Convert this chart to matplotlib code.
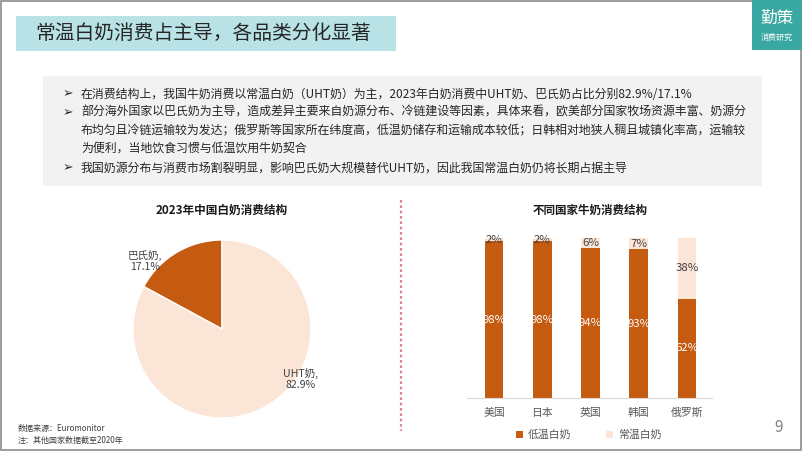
import matplotlib
matplotlib.use("Agg")
import matplotlib.pyplot as plt
from matplotlib.patches import Rectangle, Patch
from matplotlib.lines import Line2D
import numpy as np

plt.rcParams["font.family"] = ["Noto Sans CJK SC", "DejaVu Sans"]

W, H = 802, 451

# --- data ---
title = "常温白奶消费占主导，各品类分化显著"
bullets = [
    "在消费结构上，我国牛奶消费以常温白奶（UHT奶）为主，2023年白奶消费中UHT奶、巴氏奶占比分别82.9%/17.1%",
    "部分海外国家以巴氏奶为主导，造成差异主要来自奶源分布、冷链建设等因素，具体来看，欧美部分国家牧场资源丰富、奶源分\n"
    "布均匀且冷链运输较为发达；俄罗斯等国家所在纬度高，低温奶储存和运输成本较低；日韩相对地狭人稠且城镇化率高，运输较\n"
    "为便利，当地饮食习惯与低温饮用牛奶契合",
    "我国奶源分布与消费市场割裂明显，影响巴氏奶大规模替代UHT奶，因此我国常温白奶仍将长期占据主导",
]

pie_title = "2023年中国白奶消费结构"
pie_labels = ["巴氏奶", "UHT奶"]
pie_values = [17.1, 82.9]

bar_title = "不同国家牛奶消费结构"
countries = ["美国", "日本", "英国", "韩国", "俄罗斯"]
low_temp = [98, 98, 94, 93, 62]
room_temp = [2, 2, 6, 7, 38]
series_names = ["低温白奶", "常温白奶"]

DARK = "#c55a11"
LIGHT = "#fbe5d6"
TXT = "#404040"


def fx(px):
    return px / W


def fy(py):
    return 1 - py / H


fig = plt.figure(figsize=(W / 100, H / 100), dpi=100)
fig.patch.set_facecolor("white")

# frame around the slide
fig.add_artist(Rectangle((0.001, 0.002), 0.998, 0.996, transform=fig.transFigure,
                         fill=False, edgecolor="#8c8c8c", lw=1.2))

# title box
fig.add_artist(Rectangle((fx(16), fy(51)), fx(396 - 16), 35 / H, transform=fig.transFigure,
                         facecolor="#b8e2e5", edgecolor="none"))
fig.text(fx(35), fy(33.5), title, fontsize=14.2, color="#262626", va="center", ha="left")

# logo box
fig.add_artist(Rectangle((fx(752), fy(50)), fx(50), 50 / H, transform=fig.transFigure,
                         facecolor="#3aa8a2", edgecolor="none"))
fig.text(fx(777), fy(18), "勤策", fontsize=12, color="white", ha="center", va="center")
fig.text(fx(777), fy(37), "消费研究", fontsize=5.8, color="white", ha="center", va="center")

# text box
fig.add_artist(Rectangle((fx(43), fy(186)), fx(762 - 43), 110 / H, transform=fig.transFigure,
                         facecolor="#f2f2f2", edgecolor="none"))
line_y = [94, 112.5, 131, 149.5, 168]
k = 0
for b in bullets:
    lines = b.split("\n")
    fig.text(fx(63), fy(line_y[k]), "➢", fontsize=9, color="#262626", va="center",
             ha="left", family="DejaVu Sans")
    for ln in lines:
        fig.text(fx(81), fy(line_y[k]), ln, fontsize=8.6, color="#262626", va="center", ha="left")
        k += 1

# divider
fig.add_artist(Line2D([fx(400.5), fx(400.5)], [fy(200), fy(431)], transform=fig.transFigure,
                      color="#d98a8f", lw=1.6, linestyle=(0, (1.2, 1.2))))

# --- pie ---
cx, cy, r = 222, 329, 89
axp = fig.add_axes([fx(cx - r), fy(cy + r), fx(2 * r), 2 * r / H])
axp.pie(pie_values, colors=[DARK, LIGHT], startangle=90, counterclock=True,
        wedgeprops=dict(edgecolor="white", linewidth=1.0))
axp.set_xlim(-1, 1)
axp.set_ylim(-1, 1)
axp.set_aspect("equal")
axp.axis("off")
fig.text(fx(222), fy(210), pie_title, fontsize=8.4, color="#1a1a1a", ha="center", va="center",
         fontweight="bold")
fig.text(fx(145), fy(261), f"{pie_labels[0]},\n{pie_values[0]:.1f}%", fontsize=7.6, color=TXT,
         ha="center", va="center", linespacing=1.1)
fig.text(fx(301), fy(379), f"{pie_labels[1]},\n{pie_values[1]:.1f}%", fontsize=7.6, color=TXT,
         ha="center", va="center", linespacing=1.1)

# --- stacked bars ---
axb = fig.add_axes([fx(467), fy(398), fx(712 - 467), 160 / H])
x = np.arange(len(countries))
bw = 0.39
axb.bar(x, low_temp, width=bw, color=DARK, label=series_names[0])
axb.bar(x, room_temp, width=bw, bottom=low_temp, color=LIGHT, label=series_names[1])
for i in range(len(countries)):
    axb.text(x[i], low_temp[i] / 2, f"{low_temp[i]}%", ha="center", va="center",
             fontsize=8.2, color="white")
    axb.text(x[i], low_temp[i] + room_temp[i] / 2, f"{room_temp[i]}%", ha="center",
             va="center", fontsize=8.2, color=TXT)
axb.set_xlim(-0.56, 4.52)
axb.set_ylim(0, 100)
for s in ["top", "right", "left"]:
    axb.spines[s].set_visible(False)
axb.spines["bottom"].set_color("#d9d9d9")
axb.spines["bottom"].set_linewidth(0.8)
axb.set_yticks([])
axb.set_xticks(x)
axb.set_xticklabels(countries, fontsize=7.8, color="#595959")
axb.tick_params(axis="x", length=0, pad=7)
axb.set_facecolor("none")
fig.text(fx(590), fy(210), bar_title, fontsize=8.3, color="#1a1a1a", ha="center", va="center",
         fontweight="bold")

handles = [Patch(facecolor=DARK, label=series_names[0]),
           Patch(facecolor=LIGHT, label=series_names[1])]
fig.legend(handles=handles, loc="center", bbox_to_anchor=(fx(589), fy(435)), ncol=2,
           frameon=False, fontsize=7.8, handlelength=0.6, handleheight=0.6,
           handletextpad=0.5, columnspacing=3.2, labelcolor="#595959")

# page number and notes
fig.text(fx(779), fy(428), "9", fontsize=11, color="#808080", ha="center", va="center")
fig.text(fx(18), fy(429), "数据来源：Euromonitor", fontsize=5.8, color="#404040", va="center")
fig.text(fx(18), fy(440), "注：其他国家数据截至2020年", fontsize=5.8, color="#404040", va="center")

fig.savefig("out.png", dpi=100)
